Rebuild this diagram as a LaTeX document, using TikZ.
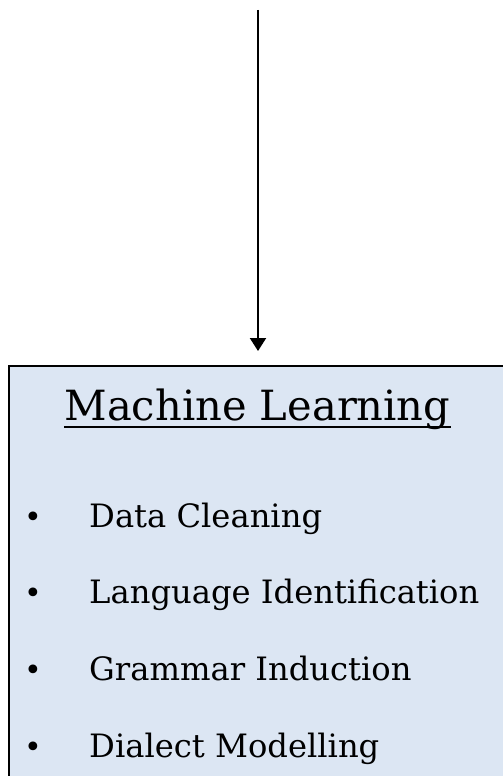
\documentclass[tikz,border=0pt]{standalone}
\usepackage{fontspec}
\setmainfont{DejaVu Serif}
\usetikzlibrary{arrows.meta}
\definecolor{boxfill}{HTML}{DCE6F3}
\tikzset{
  itemtext/.style={anchor=base west, inner sep=0pt, font=\fontsize{32.2}{32}\selectfont},
  bullettext/.style={anchor=base, inner sep=0pt, font=\fontsize{30}{30}\selectfont},
  titletext/.style={anchor=base, inner sep=0pt, font=\fontsize{41.6}{42}\selectfont},
  flowbox/.style={draw=black, line width=2pt, fill=boxfill, anchor=north west, minimum width=520pt, minimum height=440pt, inner sep=0pt},
  flowarrow/.style={line width=2pt, -{Triangle[width=16pt,length=13pt]}}
}
\begin{document}
\begin{tikzpicture}[x=1pt,y=-1pt]
\useasboundingbox (0,0) rectangle (503,776);
\node[flowbox] (ml) at (8,365) {};
\coordinate (src) at (258,10);
\coordinate (dst) at (258,351);
\draw[flowarrow] (src) -- (dst);
\node[titletext] (title) at (257.5,420) {Machine Learning};
\draw[line width=1.5pt] ([yshift=-7pt]title.base west) -- ([yshift=-7pt]title.base east);
\node[bullettext] (b1) at (33,527) {•};
\node[itemtext] (i1) at (89,527) {Data Cleaning};
\node[bullettext] (b2) at (33,603) {•};
\node[itemtext] (i2) at (89,603) {Language Identification};
\node[bullettext] (b3) at (33,680) {•};
\node[itemtext] (i3) at (89,680) {Grammar Induction};
\node[bullettext] (b4) at (33,757) {•};
\node[itemtext] (i4) at (89,757) {Dialect Modelling};
\end{tikzpicture}
\end{document}
